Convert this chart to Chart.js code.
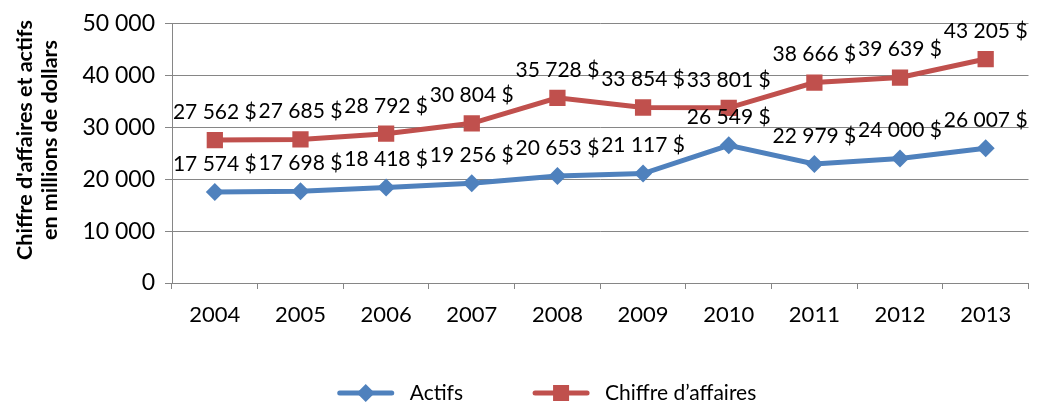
<!DOCTYPE html>
<html>
<head>
<meta charset="utf-8">
<script src="https://cdn.jsdelivr.net/npm/chart.js@4/dist/chart.umd.min.js"></script>
<style>
html,body{margin:0;padding:0;background:#fff;}
canvas{display:block;}
</style>
</head>
<body>
<canvas id="c" width="1040" height="407"></canvas>
<script>
const years = ['2004','2005','2006','2007','2008','2009','2010','2011','2012','2013'];
const actifs = [17574, 17698, 18418, 19256, 20653, 21117, 26549, 22979, 24000, 26007];
const chiffre = [27562, 27685, 28792, 30804, 35728, 33854, 33801, 38666, 39639, 43205];
const seriesNames = ['Actifs', 'Chiffre d\u2019affaires'];
const axisTitle = ["Chiffre d'affaires et actifs", 'en millions de dollars'];

const BLUE = '#4F81BD', RED = '#C0504D', GRID = '#868686';
const FONT = 'Lato, "DejaVu Sans", sans-serif';

function fmt(v){ return String(v).replace(/\B(?=(\d{3})+(?!\d))/g, ' '); }

const labelPlugin = {
  id: 'pointLabels',
  afterDatasetsDraw(chart){
    const ctx = chart.ctx;
    ctx.save();
    ctx.font = '21px ' + FONT;
    ctx.fillStyle = '#000';
    ctx.textAlign = 'center';
    ctx.textBaseline = 'middle';
    chart.data.datasets.forEach((ds, i) => {
      chart.getDatasetMeta(i).data.forEach((pt, j) => {
        ctx.fillText(fmt(ds.data[j]) + ' $', pt.x, pt.y - 28);
      });
    });
    ctx.restore();
  }
};

const yTitlePlugin = {
  id: 'yTitle',
  afterDraw(chart){
    const ctx = chart.ctx;
    ctx.save();
    ctx.font = 'bold 21.5px ' + FONT;
    ctx.fillStyle = '#000';
    ctx.textAlign = 'center';
    ctx.textBaseline = 'middle';
    ctx.translate(0, 140);
    ctx.rotate(-Math.PI / 2);
    ctx.fillText(axisTitle[0], 0, 25);
    ctx.fillText(axisTitle[1], 0, 50);
    ctx.restore();
  }
};

const legendPlugin = {
  id: 'customLegend',
  afterDraw(chart){
    const ctx = chart.ctx;
    ctx.save();
    ctx.font = '21px ' + FONT;
    const y = 393;
    const items = chart.data.datasets.map(ds => ({ds, w: ctx.measureText(ds.label).width}));
    const markW = 56, gapT = 16, gapI = 70;
    let total = 0;
    items.forEach((it, i) => { total += markW + gapT + it.w + (i ? gapI : 0); });
    let x = 547 - total / 2;
    items.forEach((it, i) => {
      if (i) x += gapI;
      const ds = it.ds;
      ctx.strokeStyle = ds.borderColor;
      ctx.lineWidth = 5;
      ctx.lineCap = 'round';
      ctx.beginPath(); ctx.moveTo(x + 2, y); ctx.lineTo(x + markW - 2, y); ctx.stroke();
      ctx.fillStyle = ds.borderColor;
      const cx = x + markW / 2;
      if (ds.pointStyle === 'rect') {
        ctx.fillRect(cx - 8, y - 8, 16, 16);
      } else {
        ctx.beginPath(); ctx.moveTo(cx - 9, y); ctx.lineTo(cx, y - 9); ctx.lineTo(cx + 9, y); ctx.lineTo(cx, y + 9); ctx.closePath(); ctx.fill();
      }
      x += markW + gapT;
      ctx.fillStyle = '#000';
      ctx.textAlign = 'left';
      ctx.textBaseline = 'middle';
      ctx.fillText(ds.label, x, y);
      x += it.w;
    });
    ctx.restore();
  }
};

new Chart(document.getElementById('c'), {
  type: 'line',
  data: {
    labels: years,
    datasets: [
      { label: seriesNames[0], data: actifs, borderColor: BLUE, backgroundColor: BLUE,
        borderWidth: 5, pointStyle: 'rectRot', pointRadius: 9, pointHoverRadius: 9,
        pointBorderWidth: 0, tension: 0 },
      { label: seriesNames[1], data: chiffre, borderColor: RED, backgroundColor: RED,
        borderWidth: 5, pointStyle: 'rect', pointRadius: 11.5, pointHoverRadius: 11.5,
        pointBorderWidth: 0, tension: 0 }
    ]
  },
  options: {
    responsive: false,
    animation: false,
    devicePixelRatio: 1,
    layout: { padding: { top: 20, right: 3, left: 0, bottom: 0 } },
    plugins: { legend: { display: false }, tooltip: { enabled: false } },
    scales: {
      x: {
        offset: true,
        grid: { offset: true, drawOnChartArea: false, color: GRID, tickLength: 6, lineWidth: 1 },
        border: { color: GRID, width: 1 },
        ticks: { color: '#000', font: { family: FONT, size: 22 }, padding: 13, maxRotation: 0 },
        afterFit(s){ s.height = 124; }
      },
      y: {
        min: 0, max: 50000,
        grid: { color: GRID, tickLength: 7, lineWidth: 1 },
        border: { color: GRID, width: 1 },
        ticks: { stepSize: 10000, color: '#000', font: { family: FONT, size: 23 }, padding: 10,
                 callback: v => fmt(v) },
        afterFit(s){ s.width = 172; }
      }
    }
  },
  plugins: [labelPlugin, yTitlePlugin, legendPlugin]
});
</script>
</body>
</html>
